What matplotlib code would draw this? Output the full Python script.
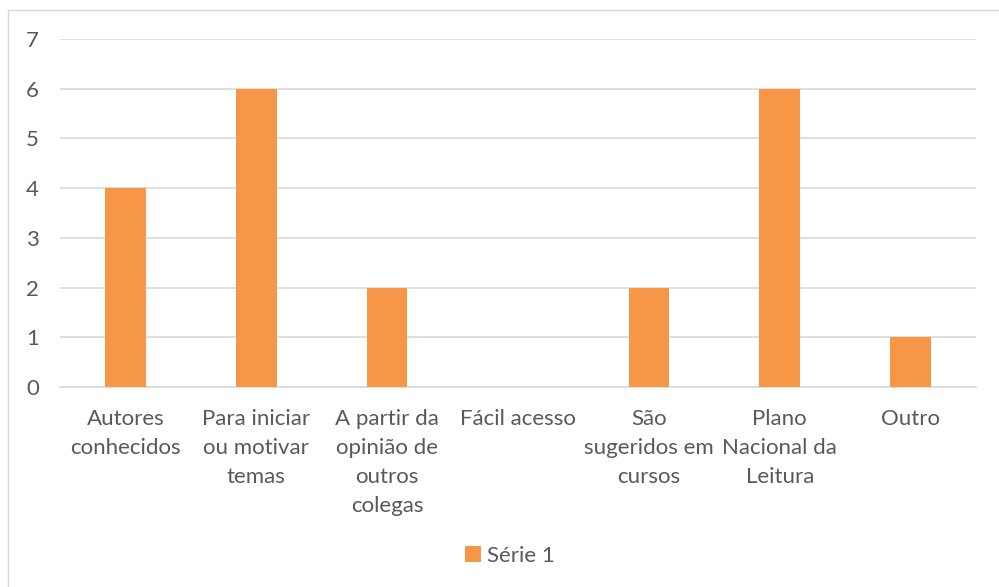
import matplotlib.pyplot as plt
from matplotlib.patches import Rectangle

# === DATA ===
categories = ["Autores\nconhecidos", "Para iniciar\nou motivar\ntemas", "A partir da\nopinião de\noutros\ncolegas",
              "Fácil acesso", "São\nsugeridos em\ncursos", "Plano\nNacional da\nLeitura", "Outro"]
values = [4, 6, 2, 0, 2, 6, 1]
series_name = "Série 1"

BAR_COLOR = "#F79646"
TEXT_COLOR = "#595959"
GRID_COLOR = "#D9D9D9"
FS = 16

plt.rcParams["font.family"] = ["Lato", "DejaVu Sans"]

fig = plt.figure(figsize=(9.99, 5.87), dpi=100)
ax = fig.add_axes([0.060, 0.3407, 0.917, 0.5929])

x = range(len(categories))
ax.bar(x, values, width=0.31, color=BAR_COLOR, label=series_name, zorder=3)

ax.set_ylim(0, 7)
ax.set_xlim(-0.5, len(categories) - 0.5)
ax.set_yticks(range(0, 8))
ax.yaxis.grid(True, color=GRID_COLOR, linewidth=1.2, zorder=0)
ax.set_xticks(list(x))
ax.set_xticklabels(categories, linespacing=1.56)
ax.tick_params(axis="both", length=0, colors=TEXT_COLOR, labelsize=FS)
ax.tick_params(axis="y", pad=15)
ax.tick_params(axis="x", pad=16)

for s in ["top", "right", "left"]:
    ax.spines[s].set_visible(False)
ax.spines["bottom"].set_color(GRID_COLOR)
ax.spines["bottom"].set_linewidth(1.2)

# chart border (extends past right/bottom edge like the original)
fig.patches.append(Rectangle((8 / 999, -0.1), 1.1, 1 - 10 / 587 + 0.1, transform=fig.transFigure,
                             fill=False, edgecolor=GRID_COLOR, linewidth=1, zorder=0))

leg = fig.legend(loc="center", bbox_to_anchor=(510 / 999, 1 - 556 / 587), frameon=False,
                 handlelength=0.7, handleheight=0.7, handletextpad=0.3, fontsize=FS)
for t in leg.get_texts():
    t.set_color(TEXT_COLOR)

fig.savefig("out.png", dpi=100)
